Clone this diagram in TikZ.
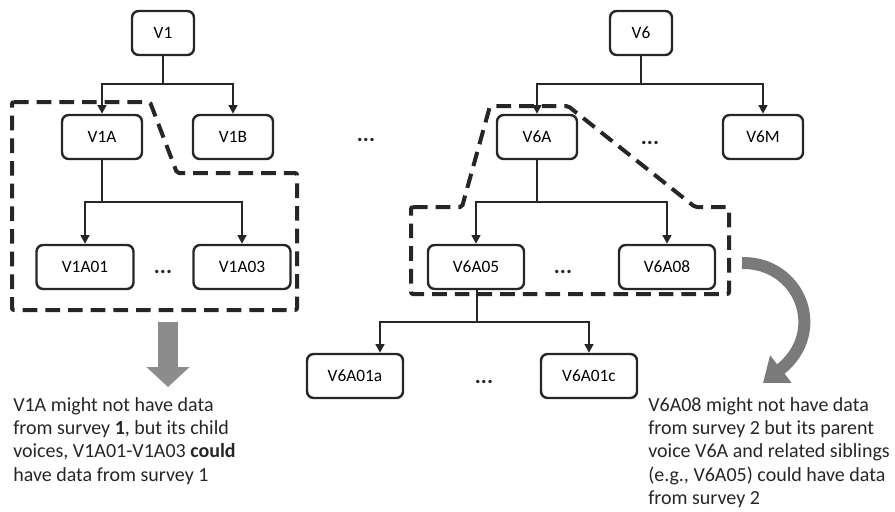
\documentclass[tikz,border=0pt]{standalone}
\usepackage{fontspec}
\setmainfont{Carlito}
\usepackage{xcolor}
\definecolor{boxline}{RGB}{38,38,38}
\definecolor{arrowgray}{RGB}{140,140,140}
\definecolor{curvegray}{RGB}{122,122,122}
\usetikzlibrary{arrows.meta,positioning,calc}

\begin{document}
\begin{tikzpicture}[x=0.75pt, y=-0.75pt,
  vbox/.style={draw=boxline, line width=1.8pt, rounded corners=5pt, fill=white,
    minimum height=33pt, minimum width=60pt, inner sep=0pt,
    font=\fontsize{13}{15}\selectfont},
  link/.style={draw=boxline, line width=1.8pt},
  linkarrow/.style={link, -{Triangle[length=6.5pt, width=6.5pt]}},
  region/.style={draw=boxline, line width=3pt, dash pattern=on 11pt off 6pt,
    rounded corners=1.5pt},
  dotsnode/.style={font=\fontsize{17}{17}\selectfont\bfseries, text=boxline, inner sep=0pt},
  note/.style={font=\fontsize{15}{17.5}\selectfont, text=boxline, align=left,
    inner sep=0pt, anchor=north west}]

\useasboundingbox (0,0) rectangle (895,511);

% Tree of V1
\node[vbox, minimum width=46.5pt] (v1) at (163,33) {V1};
\node[vbox] (v1a) at (102,137) {V1A};
\node[vbox] (v1b) at (233,137) {V1B};
\node[vbox, minimum width=72.75pt] (v1a01) at (85,267) {V1A01};
\node[vbox, minimum width=72.75pt] (v1a03) at (242,267) {V1A03};
\node[dotsnode] (dots1) at (163,272) {...};

\coordinate (j1) at (163,84);
\coordinate (j1a) at (102,202);
\draw[link] (v1) -- (j1);
\draw[linkarrow] (j1) -| (v1a);
\draw[linkarrow] (j1) -| (v1b);
\draw[link] (v1a) -- (j1a);
\draw[linkarrow] (j1a) -| (v1a01);
\draw[linkarrow] (j1a) -| (v1a03);

\node[dotsnode] (dotsmid) at (366,140) {...};

% Tree of V6
\node[vbox, minimum width=46.5pt] (v6) at (641,33) {V6};
\node[vbox] (v6a) at (537,137) {V6A};
\node[vbox] (v6m) at (763,137) {V6M};
\node[dotsnode] (dots6) at (650,143) {...};
\node[vbox, minimum width=72pt] (v6a05) at (476,267) {V6A05};
\node[vbox, minimum width=72pt] (v6a08) at (667,267) {V6A08};
\node[dotsnode] (dots6a) at (563,272) {...};
\node[vbox, minimum width=72pt] (v6a01a) at (355,376) {V6A01a};
\node[vbox, minimum width=72pt] (v6a01c) at (589,376) {V6A01c};
\node[dotsnode] (dots6b) at (484,382) {...};

\coordinate (j6) at (641,84);
\coordinate (j6a) at (537,202);
\coordinate (j6b) at (477,322);
\draw[link] (v6) -- (j6);
\draw[linkarrow] (j6) -| (v6a);
\draw[linkarrow] (j6) -| (v6m);
\draw[link] (v6a) -- (j6a);
\draw[linkarrow] (j6a) -| (v6a05);
\draw[linkarrow] (j6a) -| (v6a08);
\draw[link] ([xshift=0.75pt]v6a05.south) -- (j6b);
\draw[linkarrow] (j6b) -| ([xshift=18.75pt]v6a01a.north);
\draw[linkarrow] (j6b) -| (v6a01c);

% Dashed regions
\draw[region] (12,102) -- (150,102) -- (177,173) -- (297,173) -- (297,310)
  -- (12,310) -- cycle;
\draw[region] (411,207) -- (462,207) -- (490,106) -- (568,106) -- (695,207)
  -- (729,207) -- (729,294) -- (411,294) -- cycle;

% Notes below
\node[note] (note1) at (13,397) {V1A might not have data\\
  from survey \textbf{1}, but its child\\
  voices, V1A01-V1A03 \textbf{could}\\
  have data from survey 1};
\node[note] (note2) at (648,397) {V6A08 might not have data\\
  from survey 2 but its parent\\
  voice V6A and related siblings\\
  (e.g., V6A05) could have data\\
  from survey 2};

\coordinate (g1s) at (168,322);
\coordinate (g1e) at (168,387);
\draw[arrowgray, line width=15pt, -{Triangle[length=15pt, width=31.5pt]}] (g1s) -- (g1e);

\coordinate (g2s) at (742,263);
\coordinate (g2e) at (763,383);
\draw[curvegray, line width=9pt, -{Triangle[length=17pt, width=25pt]}]
  (g2s) .. controls (800,262) and (828,332) .. (g2e);

\end{tikzpicture}
\end{document}
